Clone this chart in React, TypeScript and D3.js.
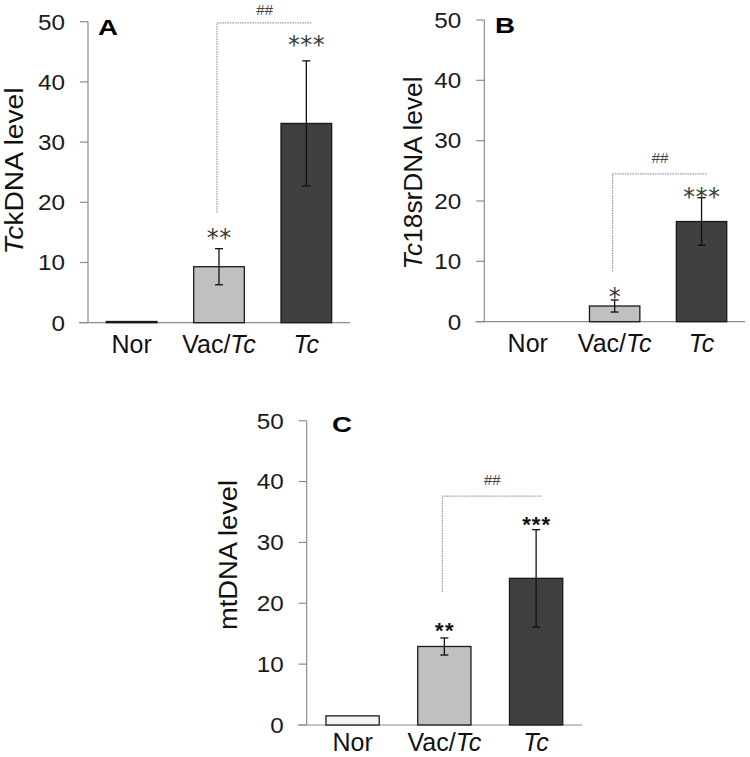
import React from "react";
import * as d3 from "d3";

const categories = ["Nor", "Vac/Tc", "Tc"];
const yTicks = [0, 10, 20, 30, 40, 50];

// Panel A: TckDNA
const meansA = [0.2, 9.3, 33.1];
const errA = [0, 3.0, 10.4];
const starsA = ["", "**", "***"];
const starPosA = [0, 15.1, 47.2];
const bracketA = [18.3, 49.8];

// Panel B: Tc18srDNA
const meansB = [0, 2.6, 16.6];
const errB = [0, 1.0, 3.95];
const starsB = ["", "*", "***"];
const starPosB = [0, 5.1, 21.7];
const bracketB = [8.3, 24.5];

// Panel C: mtDNA
const meansC = [1.5, 12.9, 24.1];
const errC = [0, 1.4, 8.0];
const starsC = ["", "**", "***"];
const starPosC = [0, 16.4, 33.9];
const bracketC = [21.9, 37.6];

const FONT = "'Liberation Sans', Arial, sans-serif";
const fills = ["#f4f4f4", "#c0c0c0", "#404040"];

type PanelProps = {
  letter: string;
  means: number[];
  errs: number[];
  stars: string[];
  starPos: number[];
  bracket: number[];
  axisX: number;
  xEnd: number;
  y0: number;
  y50: number;
  label: React.ReactNode;
  labelX: number;
  labelY: number;
  labelLen: number;
  letterX: number;
  letterY: number;
  starStyle: "thin" | "bold";
  xLabelOffset: number;
  hashOffset: number;
};

function Panel(p: PanelProps) {
  const y = d3.scaleLinear().domain([0, 50]).range([p.y0, p.y50]);
  const x = d3
    .scaleBand<string>()
    .domain(categories)
    .range([p.axisX, p.xEnd])
    .paddingInner(0.42)
    .paddingOuter(0.21);
  const bw = x.bandwidth();
  const cx = (c: string) => (x(c) as number) + bw / 2;
  const axisColor = "#8c8c8c";
  const vacX = cx(categories[1]) - 2;
  const tcX = cx(categories[2]) + 6;
  return (
    <g>
      {/* y axis */}
      <line x1={p.axisX} x2={p.axisX} y1={y(50)} y2={y(0)} stroke={axisColor} strokeWidth={1.2} />
      {yTicks.map((t) => (
        <g key={t}>
          <line x1={p.axisX - 8} x2={p.axisX} y1={y(t)} y2={y(t)} stroke={axisColor} strokeWidth={1.2} />
          <text
            x={p.axisX - 23}
            y={y(t) + 7.8}
            textAnchor="end"
            fontFamily={FONT}
            fontSize={22}
            fill="#1a1a1a"
            textLength={String(t).length * 13.5}
            lengthAdjust="spacingAndGlyphs"
          >
            {t}
          </text>
        </g>
      ))}
      {/* x axis */}
      <line x1={p.axisX - 9} x2={p.xEnd} y1={y(0)} y2={y(0)} stroke={axisColor} strokeWidth={1.2} />
      {/* bars */}
      {categories.map((c, i) => {
        const top = y(p.means[i]);
        const h = Math.max(y(0) - top, 0);
        if (p.means[i] <= 0) return null;
        return (
          <rect
            key={c}
            x={x(c)}
            y={top}
            width={bw}
            height={h}
            fill={fills[i]}
            stroke="#1a1a1a"
            strokeWidth={1.3}
          />
        );
      })}
      {/* error bars */}
      {categories.map((c, i) => {
        if (!p.errs[i]) return null;
        const xc = cx(c);
        const yt = y(p.means[i] + p.errs[i]);
        const yb = y(p.means[i] - p.errs[i]);
        return (
          <g key={c} stroke="#111" strokeWidth={1.3}>
            <line x1={xc} x2={xc} y1={yt} y2={yb} />
            <line x1={xc - 4} x2={xc + 4} y1={yt} y2={yt} />
            <line x1={xc - 4} x2={xc + 4} y1={yb} y2={yb} />
          </g>
        );
      })}
      {/* stars */}
      {categories.map((c, i) => {
        if (!p.stars[i]) return null;
        const thin = p.starStyle === "thin";
        const fs = thin ? 24 : 22;
        const w = p.stars[i].length * (thin ? 12.3 : 9.3);
        return (
          <text
            key={c}
            x={cx(c)}
            y={y(p.starPos[i]) + fs * 0.6}
            textAnchor="middle"
            fontFamily={thin ? "'DejaVu Sans', sans-serif" : FONT}
            fontSize={fs}
            fontWeight={thin ? 400 : 700}
            fill={thin ? "#3a3a3a" : "#111"}
            textLength={w}
            lengthAdjust="spacing"
          >
            {p.stars[i]}
          </text>
        );
      })}
      {/* bracket */}
      <path
        d={`M${vacX},${y(p.bracket[0])}V${y(p.bracket[1])}H${tcX}`}
        fill="none"
        stroke="#9a9a9a"
        strokeWidth={1.2}
        strokeDasharray="1.5,1"
      />
      <text
        x={(vacX + tcX) / 2}
        y={y(p.bracket[1]) - p.hashOffset}
        textAnchor="middle"
        fontFamily={FONT}
        fontSize={15}
        fill="#444"
      >
        ##
      </text>
      {/* panel letter */}
      <text
        x={p.letterX}
        y={p.letterY}
        fontFamily={FONT}
        fontSize={22}
        fontWeight={700}
        fill="#000"
        textLength={20}
        lengthAdjust="spacingAndGlyphs"
      >
        {p.letter}
      </text>
      {/* y label */}
      <text
        transform={`translate(${p.labelX},${p.labelY}) rotate(-90)`}
        textAnchor="middle"
        fontFamily={FONT}
        fontSize={26}
        fill="#111"
        textLength={p.labelLen}
        lengthAdjust="spacingAndGlyphs"
      >
        {p.label}
      </text>
      {/* x labels */}
      {categories.map((c) => (
        <text
          key={c}
          x={cx(c)}
          y={y(0) + p.xLabelOffset}
          textAnchor="middle"
          fontFamily={FONT}
          fontSize={25}
          fill="#111"
        >
          {c === "Nor" ? (
            "Nor"
          ) : c === "Vac/Tc" ? (
            <>
              Vac/<tspan fontStyle="italic">Tc</tspan>
            </>
          ) : (
            <tspan fontStyle="italic">Tc</tspan>
          )}
        </text>
      ))}
    </g>
  );
}

export default function App() {
  return (
    <svg
      width={750}
      height={757}
      viewBox="0 0 750 757"
      style={{ position: "absolute", left: 0, top: 0, background: "#fff" }}
    >
      <rect x={0} y={0} width={750} height={757} fill="#fff" />
      <Panel
        letter="A"
        means={meansA}
        errs={errA}
        stars={starsA}
        starPos={starPosA}
        bracket={bracketA}
        axisX={88}
        xEnd={350}
        y0={322.7}
        y50={21.7}
        label={
          <>
            <tspan fontStyle="italic">Tc</tspan>kDNA level
          </>
        }
        labelX={23}
        labelY={171}
        labelLen={167}
        letterX={98}
        letterY={35}
        starStyle="thin"
        xLabelOffset={30}
        hashOffset={8}
      />
      <Panel
        letter="B"
        means={meansB}
        errs={errB}
        stars={starsB}
        starPos={starPosB}
        bracket={bracketB}
        axisX={484.3}
        xEnd={745}
        y0={321.7}
        y50={20}
        label={
          <>
            <tspan fontStyle="italic">Tc</tspan>18srDNA level
          </>
        }
        labelX={421.5}
        labelY={173}
        labelLen={193}
        letterX={495}
        letterY={33}
        starStyle="thin"
        xLabelOffset={30}
        hashOffset={11}
      />
      <Panel
        letter="C"
        means={meansC}
        errs={errC}
        stars={starsC}
        starPos={starPosC}
        bracket={bracketC}
        axisX={306.7}
        xEnd={582}
        y0={725}
        y50={420.7}
        label="mtDNA level"
        labelX={236.5}
        labelY={555}
        labelLen={150}
        letterX={332}
        letterY={431.5}
        starStyle="bold"
        xLabelOffset={26}
        hashOffset={11}
      />
    </svg>
  );
}
